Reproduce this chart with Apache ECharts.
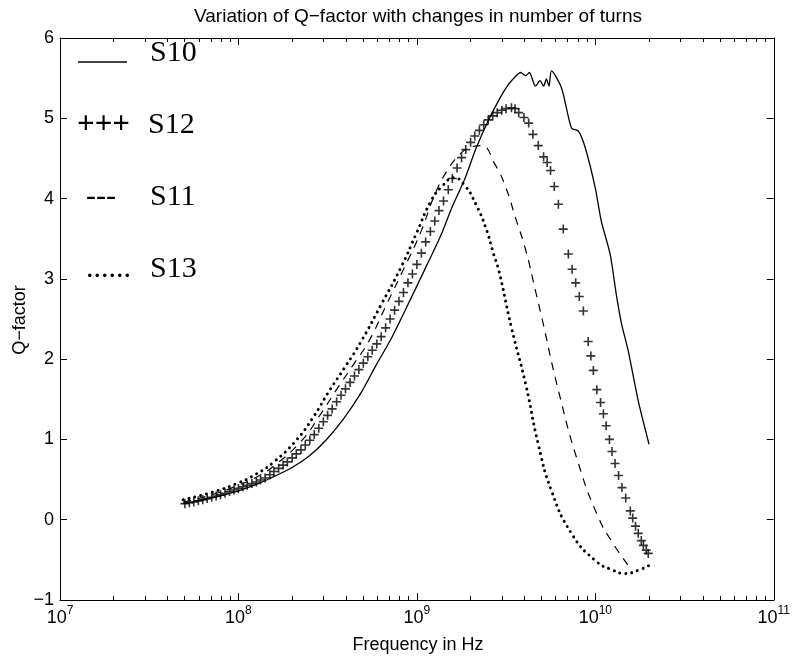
<!DOCTYPE html>
<html><head><meta charset="utf-8">
<script src="https://cdn.jsdelivr.net/npm/echarts@6/dist/echarts.min.js"></script>
<style>html,body{margin:0;padding:0;background:#fff}#c{width:793px;height:659px}</style>
</head><body><div id="c"></div>
<script>
// ---- data (frequency in Hz, Q-factor) ----
const s10Freq = [4.9e7,7.08e7,1.0e8,1.26e8,1.49e8,2.0e8,2.51e8,3.09e8,3.89e8,4.86e8,5.89e8,7.16e8,8.91e8,1.12e9,1.35e9,1.58e9,1.86e9,2.14e9,2.51e9,2.87e9,3.14e9,3.40e9,3.81e9,4.06e9,4.27e9,4.62e9,4.90e9,5.13e9,5.32e9,5.50e9,5.68e9,6.46e9,7.35e9,8.04e9,8.79e9,1.0e10,1.08e10,1.21e10,1.31e10,1.40e10,1.53e10,1.74e10,2.0e10];
const s10Q    = [0.20,0.27,0.36,0.44,0.51,0.65,0.80,0.99,1.26,1.58,1.92,2.25,2.68,3.14,3.52,3.90,4.25,4.62,4.97,5.22,5.37,5.47,5.57,5.53,5.57,5.40,5.47,5.40,5.49,5.40,5.59,5.38,4.88,4.84,4.63,4.13,3.72,3.31,2.81,2.45,2.10,1.48,0.94];

const s12Freq = [5.01e7,5.31e7,5.62e7,5.96e7,6.31e7,6.68e7,7.08e7,7.50e7,7.94e7,8.41e7,8.91e7,9.44e7,1.0e8,1.06e8,1.12e8,1.19e8,1.26e8,1.33e8,1.41e8,1.50e8,1.58e8,1.68e8,1.78e8,1.88e8,2.0e8,2.11e8,2.24e8,2.37e8,2.51e8,2.66e8,2.82e8,2.99e8,3.16e8,3.35e8,3.55e8,3.76e8,3.98e8,4.22e8,4.47e8,4.73e8,5.01e8,5.31e8,5.62e8,5.96e8,6.31e8,6.68e8,7.08e8,7.50e8,7.94e8,8.41e8,8.91e8,9.44e8,1.0e9,1.06e9,1.12e9,1.19e9,1.26e9,1.33e9,1.41e9,1.50e9,1.58e9,1.68e9,1.78e9,1.88e9,2.0e9,2.11e9,2.24e9,2.37e9,2.51e9,2.66e9,2.82e9,2.99e9,3.16e9,3.39e9,3.55e9,3.72e9,3.98e9,4.23e9,4.47e9,4.79e9,5.13e9,5.37e9,5.61e9,5.89e9,6.21e9,6.61e9,7.06e9,7.41e9,7.76e9,8.13e9,8.57e9,9.12e9,9.44e9,9.75e9,1.02e10,1.07e10,1.11e10,1.15e10,1.20e10,1.24e10,1.29e10,1.35e10,1.41e10,1.48e10,1.57e10,1.62e10,1.68e10,1.74e10,1.81e10,1.86e10,1.93e10,1.98e10];
const s12Q    = [0.20,0.21,0.22,0.235,0.25,0.265,0.28,0.295,0.31,0.33,0.35,0.37,0.39,0.41,0.43,0.45,0.47,0.495,0.52,0.56,0.60,0.64,0.68,0.72,0.77,0.82,0.87,0.93,0.99,1.06,1.14,1.22,1.30,1.38,1.47,1.55,1.63,1.71,1.79,1.87,1.95,2.03,2.11,2.19,2.28,2.39,2.50,2.61,2.72,2.83,2.95,3.06,3.18,3.32,3.46,3.59,3.72,3.85,3.97,4.11,4.25,4.38,4.51,4.61,4.70,4.78,4.85,4.92,4.98,5.03,5.07,5.10,5.12,5.13,5.12,5.07,5.01,4.94,4.80,4.66,4.52,4.45,4.35,4.15,3.93,3.62,3.31,3.12,2.95,2.78,2.60,2.22,2.04,1.86,1.62,1.46,1.32,1.17,1.00,0.85,0.70,0.55,0.40,0.27,0.11,0.02,-0.08,-0.17,-0.26,-0.32,-0.38,-0.42];

const s11Freq = [4.9e7,7.08e7,1.0e8,1.26e8,1.58e8,2.25e8,2.82e8,3.52e8,4.37e8,5.40e8,6.76e8,8.51e8,1.05e9,1.26e9,1.48e9,1.74e9,2.0e9,2.29e9,2.75e9,3.16e9,3.57e9,4.06e9,4.62e9,5.01e9,6.21e9,8.04e9,1.04e10,1.26e10,1.53e10];
const s11Q    = [0.22,0.31,0.43,0.53,0.67,0.98,1.28,1.61,1.92,2.23,2.68,3.14,3.58,4.05,4.35,4.55,4.64,4.66,4.42,4.13,3.76,3.37,2.85,2.52,1.61,0.70,0.03,-0.30,-0.57];

const s13Freq = [4.9e7,7.08e7,1.0e8,1.26e8,1.58e8,2.09e8,2.63e8,3.24e8,3.98e8,4.90e8,6.31e8,8.13e8,1.0e9,1.20e9,1.38e9,1.62e9,1.86e9,2.14e9,2.43e9,2.69e9,2.88e9,3.39e9,4.07e9,4.79e9,5.68e9,7.35e9,1.0e10,1.26e10,1.47e10,1.74e10,2.0e10];
const s13Q    = [0.25,0.34,0.46,0.57,0.72,0.98,1.28,1.61,1.91,2.23,2.68,3.14,3.58,3.97,4.15,4.26,4.16,3.93,3.64,3.31,3.10,2.39,1.69,0.94,0.36,-0.17,-0.51,-0.63,-0.67,-0.63,-0.57];

const xMajorTicks = [1e7,1e8,1e9,1e10,1e11];
const xMinorTicks = [];
for (let e = 7; e < 11; e++) for (let m = 2; m <= 9; m++) xMinorTicks.push(m * Math.pow(10, e));
const yTicks = [-1,0,1,2,3,4,5,6];

const titleText = 'Variation of Q\u2212factor with changes in number of turns';
const xName = 'Frequency in Hz';
const yName = 'Q\u2212factor';
const legendNames = ['S10','S12','S11','S13'];

// ---- chart ----
const zip = (a, b) => a.map((v, i) => [v, b[i]]);
const SANS = 'Liberation Sans, Arial, sans-serif';
const SERIF = 'Liberation Serif, Times New Roman, serif';
const black = '#000';

const baseX = {
  type: 'log', logBase: 10, min: xMajorTicks[0], max: xMajorTicks[xMajorTicks.length - 1],
  gridIndex: 0, splitLine: {show: false},
  axisLine: {show: true, onZero: false, lineStyle: {color: black, width: 1}},
  axisTick: {show: true, inside: true, length: 7, lineStyle: {color: black, width: 1}},
  axisLabel: {show: false}
};
const minorX = (pos) => Object.assign({}, baseX, {
  position: pos, axisLine: {show: false, onZero: false},
  axisTick: {show: true, inside: true, length: 4, customValues: xMinorTicks, lineStyle: {color: black, width: 1}},
  axisLabel: {show: false}
});

const baseY = {
  type: 'value', min: yTicks[0], max: yTicks[yTicks.length - 1], interval: 1, gridIndex: 0,
  splitLine: {show: false},
  axisLine: {show: true, onZero: false, lineStyle: {color: black, width: 1}},
  axisTick: {show: true, inside: true, length: 7, lineStyle: {color: black, width: 1}},
  axisLabel: {show: false}
};

const plusPath = 'path://M4.1,0 H5.9 V4.1 H10 V5.9 H5.9 V10 H4.1 V5.9 H0 V4.1 H4.1 Z';

const option = {
  animation: false,
  backgroundColor: '#fff',
  grid: {left: 60, right: 17, top: 38, bottom: 59, containLabel: false},
  xAxis: [
    Object.assign({}, baseX, {
      position: 'bottom',
      axisLabel: {
        show: true, margin: 5, color: black,
        formatter: v => '{b|10}{s|' + Math.round(Math.log10(v)) + '}',
        rich: {
          b: {fontSize: 18, fontFamily: SANS, color: black, lineHeight: 22, verticalAlign: 'bottom'},
          s: {fontSize: 12, fontFamily: SANS, color: black, lineHeight: 12, verticalAlign: 'top'}
        }
      }
    }),
    Object.assign({}, baseX, {position: 'top'}),
    minorX('bottom'),
    minorX('top')
  ],
  yAxis: [
    Object.assign({}, baseY, {
      position: 'left',
      axisLabel: {show: true, margin: 6, fontSize: 18, fontFamily: SANS, color: black,
        formatter: v => String(v).replace('-', '\u2212')}
    }),
    Object.assign({}, baseY, {position: 'right'})
  ],
  graphic: [
    {type: 'text', x: 418, y: 17, style: {text: titleText, font: '19px ' + SANS, fill: black, align: 'center', verticalAlign: 'middle'}},
    {type: 'text', x: 418, y: 645, style: {text: xName, font: '18px ' + SANS, fill: black, align: 'center', verticalAlign: 'middle'}},
    {type: 'text', x: 20, y: 320, rotation: Math.PI / 2, style: {text: yName, font: '18px ' + SANS, fill: black, align: 'center', verticalAlign: 'middle'}},
    // legend
    {type: 'line', shape: {x1: 78, y1: 62, x2: 127, y2: 62}, style: {stroke: black, lineWidth: 1.5}},
    {type: 'text', x: 150, y: 53, style: {text: legendNames[0], font: '30px ' + SERIF, fill: black, align: 'left', verticalAlign: 'middle'}},
    {type: 'text', x: 77, y: 125, style: {text: '+++', font: 'bold 31px ' + SERIF, fill: black, align: 'left', verticalAlign: 'middle'}},
    {type: 'text', x: 148, y: 125, style: {text: legendNames[1], font: '30px ' + SERIF, fill: black, align: 'left', verticalAlign: 'middle'}},
    {type: 'text', x: 86, y: 197, style: {text: '---', font: '30px ' + SERIF, fill: black, align: 'left', verticalAlign: 'middle'}},
    {type: 'text', x: 150, y: 197, style: {text: legendNames[2], font: '30px ' + SERIF, fill: black, align: 'left', verticalAlign: 'middle'}},
    {type: 'text', x: 86, y: 269, style: {text: '......', font: '30px ' + SERIF, fill: black, align: 'left', verticalAlign: 'middle'}},
    {type: 'text', x: 150, y: 269, style: {text: legendNames[3], font: '30px ' + SERIF, fill: black, align: 'left', verticalAlign: 'middle'}}
  ],
  series: [
    {name: 'S10', type: 'line', data: zip(s10Freq, s10Q), symbol: 'none', smooth: 0.25,
      lineStyle: {color: black, width: 1.3}, xAxisIndex: 0, yAxisIndex: 0},
    {name: 'S12', type: 'scatter', data: zip(s12Freq, s12Q), symbol: plusPath, symbolSize: 9,
      itemStyle: {color: black}, xAxisIndex: 0, yAxisIndex: 0},
    {name: 'S11', type: 'line', data: zip(s11Freq, s11Q), symbol: 'none', smooth: true,
      lineStyle: {color: black, width: 1.2, type: [8, 7]}, xAxisIndex: 0, yAxisIndex: 0},
    {name: 'S13', type: 'line', data: zip(s13Freq, s13Q), symbol: 'none', smooth: true,
      lineStyle: {color: black, width: 3, type: [0.01, 6], cap: 'round'}, xAxisIndex: 0, yAxisIndex: 0}
  ]
};
const chart = echarts.init(document.getElementById('c'), null, {renderer: 'canvas'});
chart.setOption(option);
</script></body></html>
